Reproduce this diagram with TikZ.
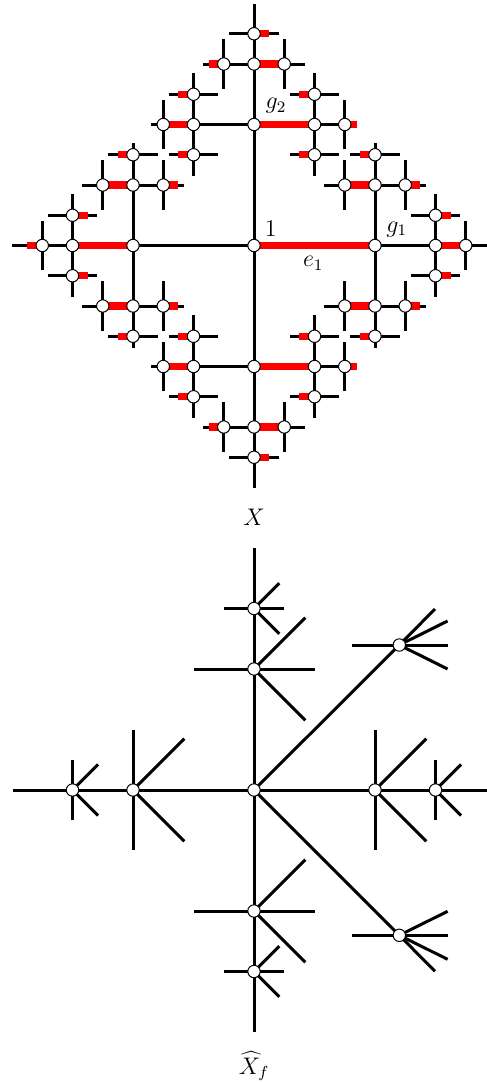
\documentclass[tikz,border=0pt]{standalone}
\pgfdeclarelayer{redlayer}
\pgfdeclarelayer{toplayer}
\pgfsetlayers{main,redlayer,toplayer}
\tikzset{
  blk/.style={line width=1.5pt, black},
  redge/.style={line width=3.6pt, red},
  vtx/.style={circle, draw=black, fill=white, line width=0.5pt, inner sep=0pt, minimum size=6.2pt},
  lbl/.style={font=\fontsize{12}{14}\selectfont, inner sep=0pt}
}
\begin{document}
\begin{tikzpicture}[x=0.5pt,y=-0.5pt]
\useasboundingbox (0,0) rectangle (487,1082);
% ---------------- top diagram X ----------------
\begin{scope}[shift={(254,245.5)}]
\begin{scope}[x=15.125pt,y=15.125pt]
\begin{pgfonlayer}{toplayer}\node[vtx] (root) at (0,0) {};\end{pgfonlayer}
\foreach \a in {0,1,2,3}{%
  \pgfmathtruncatemacro\ax{round(cos(90*\a))}%
  \pgfmathtruncatemacro\ay{round(sin(90*\a))}%
  \pgfmathtruncatemacro\pa{1-mod(\a,2)}%
  \pgfmathtruncatemacro\ra{(\a==0)}%
  \pgfmathsetmacro\Ax{4*\ax}\pgfmathsetmacro\Ay{4*\ay}%
  \begin{pgfonlayer}{toplayer}\node[vtx] (v\a) at (\Ax,\Ay) {};\end{pgfonlayer}
  \draw[blk] (root.center) -- (v\a.center);
  \ifnum\ra=1 \begin{pgfonlayer}{redlayer}\draw[redge] (root.center) -- (v\a.center);\end{pgfonlayer}\fi
  \foreach \b in {0,1,2,3}{%
    \pgfmathtruncatemacro\dab{abs(\b-\a)}%
    \ifnum\dab=2 \else
      \pgfmathtruncatemacro\bx{round(cos(90*\b))}%
      \pgfmathtruncatemacro\by{round(sin(90*\b))}%
      \pgfmathtruncatemacro\rb{(mod(\b,2)==0)*(\pa==\b/2)}%
      \pgfmathtruncatemacro\pb{mod(\pa+1-mod(\b,2),2)}%
      \pgfmathsetmacro\Bx{\Ax+2*\bx}\pgfmathsetmacro\By{\Ay+2*\by}%
      \begin{pgfonlayer}{toplayer}\node[vtx] (v\a\b) at (\Bx,\By) {};\end{pgfonlayer}
      \draw[blk] (v\a.center) -- (v\a\b.center);
      \ifnum\rb=1 \begin{pgfonlayer}{redlayer}\draw[redge] (v\a.center) -- (v\a\b.center);\end{pgfonlayer}\fi
      \foreach \c in {0,1,2,3}{%
        \pgfmathtruncatemacro\dbc{abs(\c-\b)}%
        \ifnum\dbc=2 \else
          \pgfmathtruncatemacro\cx{round(cos(90*\c))}%
          \pgfmathtruncatemacro\cy{round(sin(90*\c))}%
          \pgfmathtruncatemacro\rc{(mod(\c,2)==0)*(\pb==\c/2)}%
          \pgfmathtruncatemacro\pc{mod(\pb+1-mod(\c,2),2)}%
          \pgfmathsetmacro\Cx{\Bx+\cx}\pgfmathsetmacro\Cy{\By+\cy}%
          \begin{pgfonlayer}{toplayer}\node[vtx] (v\a\b\c) at (\Cx,\Cy) {};\end{pgfonlayer}
          \draw[blk] (v\a\b.center) -- (v\a\b\c.center);
          \ifnum\rc=1 \begin{pgfonlayer}{redlayer}\draw[redge] (v\a\b.center) -- (v\a\b\c.center);\end{pgfonlayer}\fi
          \foreach \d in {0,1,2,3}{%
            \pgfmathtruncatemacro\dcd{abs(\d-\c)}%
            \ifnum\dcd=2 \else
              \pgfmathtruncatemacro\dx{round(cos(90*\d))}%
              \pgfmathtruncatemacro\dy{round(sin(90*\d))}%
              \pgfmathtruncatemacro\rd{(mod(\d,2)==0)*(\pc==\d/2)}%
              \ifnum\d=\c
                \ifnum\a=\b
                  \ifnum\b=\c \def\L{1}\else\def\L{0.7}\fi
                \else
                  \ifnum\b=\c \def\L{0.4}\else\def\L{0.7}\fi
                \fi
              \else \def\L{0.82}\fi
              \draw[blk] (v\a\b\c.center) -- ++(\L*\dx,\L*\dy) coordinate (s\a\b\c\d);
              \ifnum\rd=1
                \pgfmathsetmacro\Lr{min(0.5,\L)}%
                \begin{pgfonlayer}{redlayer}\draw[redge] (v\a\b\c.center) -- ++(\Lr*\dx,\Lr*\dy);\end{pgfonlayer}
              \fi
            \fi
          }%
        \fi
      }%
    \fi
  }%
}
\end{scope}
\end{scope}
\node[lbl] (l1) at (270.7,228.3) {$1$};
\node[lbl] (lg1) at (396.7,229.3) {$g_1$};
\node[lbl] (lg2) at (276,106) {$g_2$};
\node[lbl] (le1) at (313.3,263.3) {$e_1$};
\node[lbl] (lX) at (254,517) {$X$};
% ---------------- bottom diagram ----------------
\begin{pgfonlayer}{toplayer}
\node[vtx] (c) at (254,790) {};
\node[vtx] (h1l) at (133,790) {};
\node[vtx] (h2l) at (72.5,790) {};
\node[vtx] (h1r) at (375,790) {};
\node[vtx] (h2r) at (435.5,790) {};
\node[vtx] (v1u) at (254,669) {};
\node[vtx] (v2u) at (254,608.5) {};
\node[vtx] (v1d) at (254,911) {};
\node[vtx] (v2d) at (254,971.5) {};
\node[vtx] (ur) at (399.3,645) {};
\node[vtx] (lr) at (399.3,935.3) {};
\end{pgfonlayer}
\coordinate (endL) at (12.5,790);
\coordinate (endR) at (496,790);
\coordinate (endU) at (254,548);
\coordinate (endD) at (254,1032);
\draw[blk] (endL) -- (h2l.center) -- (h1l.center) -- (c.center) -- (h1r.center) -- (h2r.center) -- (endR);
\draw[blk] (endU) -- (v2u.center) -- (v1u.center) -- (c.center) -- (v1d.center) -- (v2d.center) -- (endD);
\draw[blk] (c.center) -- (ur.center);
\draw[blk] (c.center) -- (lr.center);
\foreach \n in {h1l,h1r}{
  \foreach \p in {(0,-60),(0,60),(51.3,-51.3),(51.3,51.3)}{\draw[blk] (\n.center) -- ++\p;}
}
\foreach \n in {h2l,h2r}{
  \foreach \p in {(0,-30),(0,30),(25.6,-25.6),(25.6,25.6)}{\draw[blk] (\n.center) -- ++\p;}
}
\foreach \n in {v1u,v1d}{
  \foreach \p in {(-60,0),(60.7,0),(51.3,-51.3),(51.3,51.3)}{\draw[blk] (\n.center) -- ++\p;}
}
\foreach \n in {v2u,v2d}{
  \foreach \p in {(-30,0),(30,0),(25.3,-25.4),(25.3,25.4)}{\draw[blk] (\n.center) -- ++\p;}
}
\foreach \p in {(-47.6,0),(48.3,0),(35.7,-36),(48.3,-24),(48.3,24)}{\draw[blk] (ur.center) -- ++\p;}
\foreach \p in {(-47.6,0),(48.3,0),(48.3,-24),(48.3,24),(35.7,36)}{\draw[blk] (lr.center) -- ++\p;}
\node[lbl] (lXf) at (254,1066) {$\widehat{X}_f$};
\end{tikzpicture}
\end{document}
